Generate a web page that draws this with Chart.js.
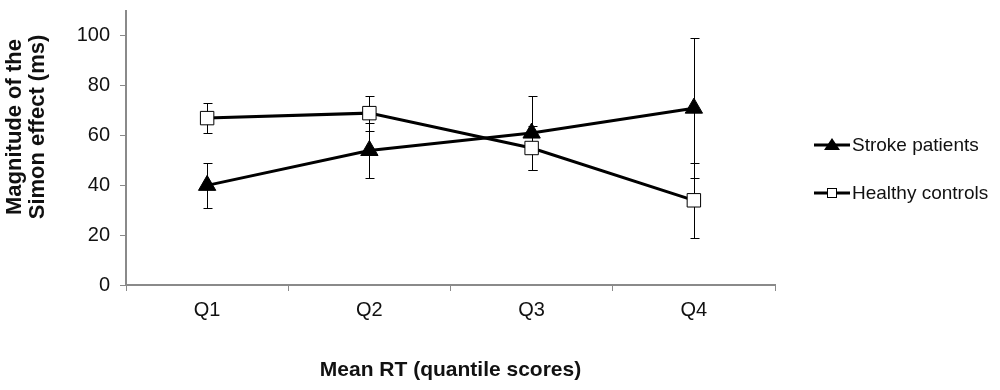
<!DOCTYPE html>
<html>
<head>
<meta charset="utf-8">
<script src="https://cdn.jsdelivr.net/npm/chart.js@4.4.0/dist/chart.umd.min.js"></script>
<style>
html, body { margin: 0; padding: 0; background: #fff; }
#wrap { width: 1000px; height: 390px; position: relative; }
</style>
</head>
<body>
<div id="wrap"><canvas id="simonChart"></canvas></div>
<script>
const quantiles = ["Q1", "Q2", "Q3", "Q4"];
const strokeMeans = [40, 54, 61, 71];
const strokeErrors = [9, 11, 15, 28];
const healthyMeans = [67, 69, 55, 34];
const healthyErrors = [6, 7, 9, 15];
const yTickValues = [0, 20, 40, 60, 80, 100];
const seriesNames = ["Stroke patients", "Healthy controls"];
const yTitleLines = ["Magnitude of the", "Simon effect (ms)"];

const FONT = "'Liberation Sans', Arial, sans-serif";
const axisGray = "#8a8a8a";

// error bars, drawn under the lines and markers
const errorBars = {
    id: "errorBars",
    beforeDatasetsDraw(chart) {
        const ctx = chart.ctx;
        const y = chart.scales.y;
        const errs = [strokeErrors, healthyErrors];
        ctx.save();
        ctx.strokeStyle = "#000";
        ctx.lineWidth = 1;
        chart.data.datasets.forEach((ds, i) => {
            const meta = chart.getDatasetMeta(i);
            meta.data.forEach((pt, j) => {
                const x = Math.round(pt.x) + 0.5;
                const top = Math.round(y.getPixelForValue(ds.data[j] + errs[i][j])) + 0.5;
                const bot = Math.round(y.getPixelForValue(ds.data[j] - errs[i][j])) + 0.5;
                ctx.beginPath();
                ctx.moveTo(x, top); ctx.lineTo(x, bot);
                ctx.moveTo(x - 4, top); ctx.lineTo(x + 5, top);
                ctx.moveTo(x - 4, bot); ctx.lineTo(x + 5, bot);
                ctx.stroke();
            });
        });
        ctx.restore();
    }
};

// y title sits a bit above the plot centre in the original, so draw it by hand
const yTitle = {
    id: "yTitle",
    afterDraw(chart) {
        const ctx = chart.ctx;
        ctx.save();
        ctx.fillStyle = "#111";
        ctx.font = "bold 22px " + FONT;
        ctx.textAlign = "center";
        ctx.textBaseline = "middle";
        ctx.translate(0, 127);
        ctx.rotate(-Math.PI / 2);
        ctx.fillText(yTitleLines[0], 0, 15);
        ctx.fillText(yTitleLines[1], 0, 38);
        ctx.restore();
    }
};

// legend on the right, Excel style
const sideLegend = {
    id: "sideLegend",
    afterDraw(chart) {
        const ctx = chart.ctx;
        const rows = [145, 193];
        ctx.save();
        chart.data.datasets.forEach((ds, i) => {
            const yy = rows[i];
            ctx.strokeStyle = "#000";
            ctx.lineWidth = 3;
            ctx.beginPath();
            ctx.moveTo(814, yy); ctx.lineTo(850, yy);
            ctx.stroke();
            ctx.lineWidth = 1;
            if (ds.pointStyle === "triangle") {
                ctx.fillStyle = "#000";
                ctx.beginPath();
                ctx.moveTo(832, yy - 7);
                ctx.lineTo(840, yy + 5);
                ctx.lineTo(824, yy + 5);
                ctx.closePath();
                ctx.fill();
            } else {
                ctx.fillStyle = "#fff";
                ctx.fillRect(827, yy - 5, 10, 10);
                ctx.strokeRect(827.5, yy - 4.5, 9, 9);
            }
            ctx.fillStyle = "#111";
            ctx.font = "19px " + FONT;
            ctx.textBaseline = "middle";
            ctx.fillText(ds.label, 852, yy + 1);
        });
        ctx.restore();
    }
};

new Chart(document.getElementById("simonChart"), {
    type: "line",
    data: {
        labels: quantiles,
        datasets: [{
            label: seriesNames[0],
            data: strokeMeans,
            borderColor: "#000",
            borderWidth: 3,
            pointStyle: "triangle",
            pointRadius: 10,
            pointBackgroundColor: "#000",
            pointBorderColor: "#000",
            pointBorderWidth: 1,
            tension: 0
        }, {
            label: seriesNames[1],
            data: healthyMeans,
            borderColor: "#000",
            borderWidth: 3,
            pointStyle: "rect",
            pointRadius: 9.5,
            pointBackgroundColor: "#fff",
            pointBorderColor: "#000",
            pointBorderWidth: 1,
            tension: 0
        }]
    },
    options: {
        responsive: true,
        maintainAspectRatio: false,
        animation: false,
        events: [],
        layout: { padding: { top: 10, right: 225, bottom: 0, left: 0 } },
        plugins: {
            legend: { display: false },
            tooltip: { enabled: false }
        },
        scales: {
            x: {
                offset: true,
                grid: { offset: true, drawOnChartArea: false, drawTicks: true, tickLength: 6, color: axisGray, lineWidth: 1 },
                border: { color: axisGray, width: 2 },
                ticks: { color: "#111", font: { family: FONT, size: 20 }, padding: 7 },
                title: {
                    display: true,
                    text: "Mean RT (quantile scores)",
                    color: "#111",
                    font: { family: FONT, size: 21, weight: "bold" },
                    padding: { top: 0, bottom: 7 }
                },
                afterFit(scale) { scale.height = 105; }
            },
            y: {
                min: 0,
                max: 110,
                afterBuildTicks(scale) { scale.ticks = yTickValues.map(v => ({ value: v })); },
                grid: { drawOnChartArea: false, drawTicks: true, tickLength: 6, color: axisGray, lineWidth: 1 },
                border: { color: axisGray, width: 2 },
                ticks: { color: "#111", font: { family: FONT, size: 20 }, padding: 10 },
                afterFit(scale) {
                    scale.width = 126;
                    scale.paddingTop = 0;
                    scale.paddingBottom = 0;
                }
            }
        }
    },
    plugins: [errorBars, yTitle, sideLegend]
});
</script>
</body>
</html>
